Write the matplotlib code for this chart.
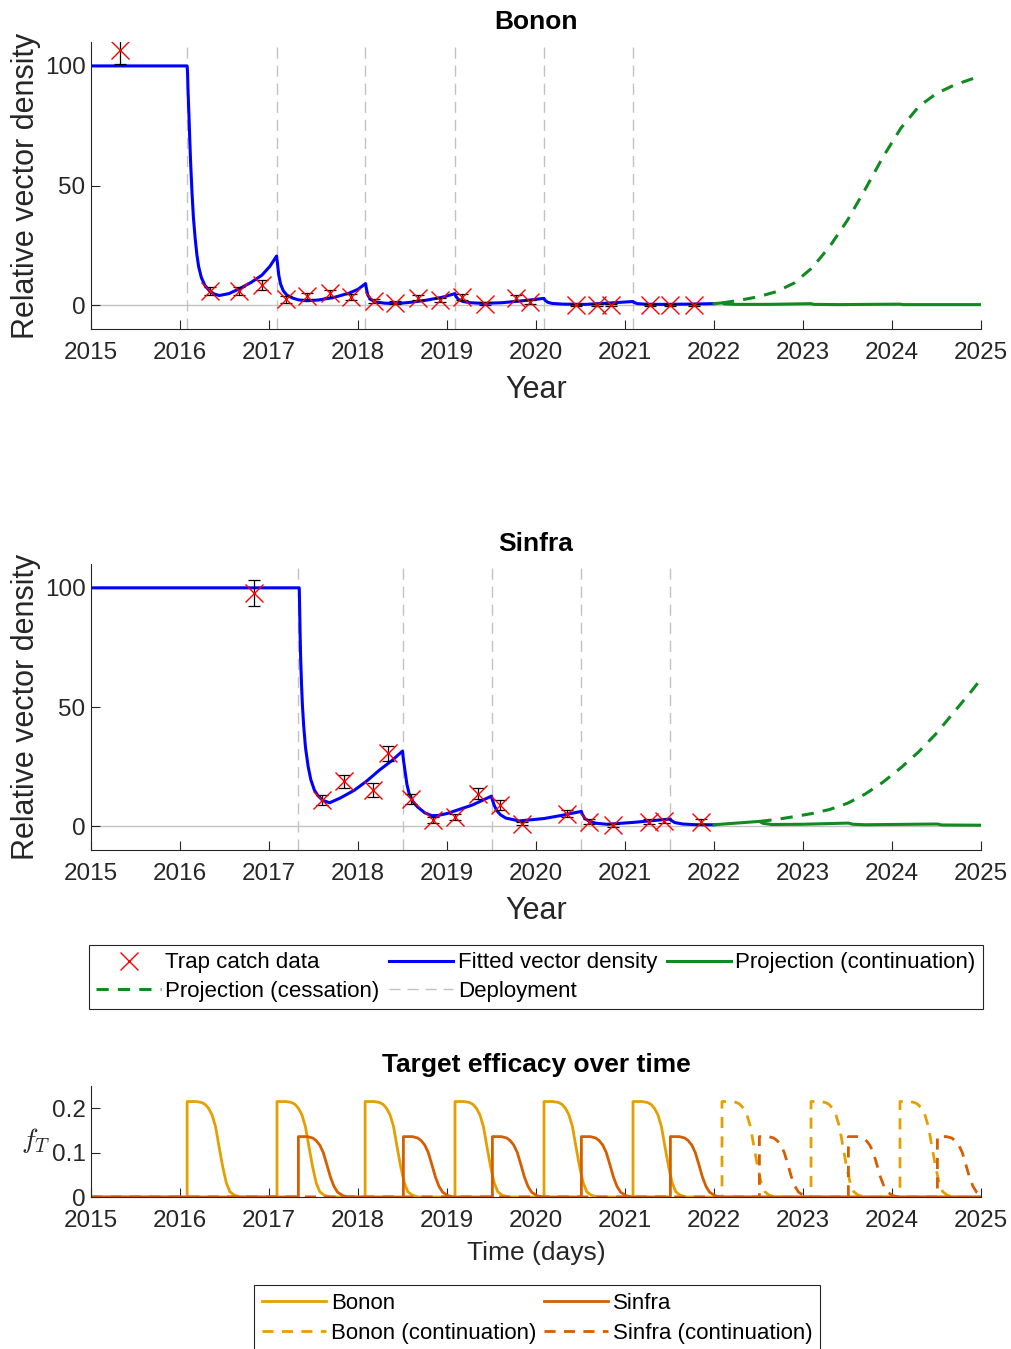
import matplotlib
matplotlib.use("Agg")
import matplotlib.pyplot as plt
from matplotlib.lines import Line2D

plt.rcParams['font.family'] = ['Liberation Sans', 'DejaVu Sans']
plt.rcParams['mathtext.fontset'] = 'cm'

# ---- Bonon trap catch data (year, relative density, error) ----
bonon_t = [2015.33, 2016.34, 2016.66, 2016.92, 2017.19, 2017.43, 2017.68, 2017.92,
           2018.18, 2018.42, 2018.67, 2018.92, 2019.17, 2019.43, 2019.78, 2019.93,
           2020.45, 2020.68, 2020.84, 2021.28, 2021.51, 2021.77]
bonon_y = [106.7, 5.9, 5.9, 8.4, 2.4, 3.8, 4.9, 3.5,
           1.7, 1.0, 3.1, 2.0, 3.4, 0.6, 3.1, 1.4,
           0.0, 0.0, 0.0, 0.0, 0.0, 0.0]
bonon_err = [6.0, 1.5, 1.5, 2.1, 1.4, 1.3, 1.6, 1.3,
             0.7, 0.6, 1.0, 0.8, 1.4, 0.5, 1.2, 0.8,
             0.3, 0.3, 0.3, 0.3, 0.3, 0.3]

# fitted vector density
bonon_fit_t = [2015.0, 2016.08, 2016.085, 2016.09, 2016.10, 2016.11, 2016.12, 2016.135, 2016.15,
               2016.17, 2016.19, 2016.21, 2016.24, 2016.28, 2016.33, 2016.38, 2016.44, 2016.55,
               2016.66, 2016.80, 2016.92, 2017.01, 2017.085, 2017.095, 2017.11, 2017.13, 2017.16,
               2017.20, 2017.26, 2017.33, 2017.42, 2017.55, 2017.72, 2017.90, 2018.00, 2018.085,
               2018.095, 2018.11, 2018.14, 2018.20, 2018.30, 2018.43, 2018.60, 2018.76, 2018.95,
               2019.09, 2019.10, 2019.13, 2019.18, 2019.26, 2019.40, 2019.62, 2019.85, 2020.09,
               2020.10, 2020.13, 2020.18, 2020.30, 2020.56, 2020.80, 2021.09, 2021.10, 2021.14,
               2021.22, 2021.40, 2021.70, 2022.00]
bonon_fit_y = [100, 100, 97, 90, 80, 69, 59, 47, 37,
               28, 21, 16, 11.5, 8.2, 6.0, 4.7, 4.0, 4.8,
               6.7, 9.5, 12.5, 16.2, 20.5, 17.5, 12.5, 8.8, 6.0,
               4.2, 3.0, 2.2, 1.8, 2.1, 3.1, 5.0, 6.6, 9.0,
               6.8, 4.2, 2.4, 1.3, 0.8, 0.6, 1.2, 2.0, 3.3,
               4.8, 3.6, 2.3, 1.5, 1.0, 0.7, 1.0, 1.8, 2.8,
               2.1, 1.2, 0.7, 0.4, 0.3, 0.8, 1.5, 1.1, 0.6,
               0.4, 0.3, 0.4, 0.6]
bonon_cont_t = [2022.00, 2022.09, 2022.12, 2022.25, 2022.60, 2023.09, 2023.12, 2023.40,
                2024.09, 2024.12, 2025.0]
bonon_cont_y = [0.6, 0.9, 0.5, 0.3, 0.3, 0.6, 0.3, 0.2, 0.4, 0.2, 0.2]
bonon_stop_t = [2022.09, 2022.3, 2022.5, 2022.7, 2022.9, 2023.1, 2023.3, 2023.5,
                2023.7, 2023.9, 2024.1, 2024.3, 2024.5, 2024.7, 2024.9, 2025.0]
bonon_stop_y = [0.9, 2.1, 3.5, 5.6, 9.2, 15.5, 24.5, 35.5,
                48.5, 62.0, 74.0, 83.0, 88.5, 92.0, 94.6, 95.6]
bonon_deploy = [2016.08, 2017.09, 2018.08, 2019.09, 2020.09, 2021.09]

# ---- Sinfra ----
sinfra_t = [2016.83, 2017.59, 2017.84, 2018.17, 2018.34, 2018.60, 2018.84, 2019.09,
            2019.35, 2019.59, 2019.84, 2020.35, 2020.60, 2020.86, 2021.27, 2021.44, 2021.85]
sinfra_y = [97.8, 10.9, 18.9, 15.1, 30.5, 11.6, 2.5, 3.9,
            13.7, 8.8, 1.1, 5.3, 1.8, 0.4, 1.8, 2.2, 1.8]
sinfra_err = [5.3, 2.1, 2.7, 3.0, 3.1, 2.1, 1.2, 1.4,
              2.3, 2.0, 0.8, 1.5, 1.0, 0.6, 1.0, 1.0, 1.0]

sinfra_fit_t = [2015.0, 2017.34, 2017.345, 2017.35, 2017.356, 2017.365, 2017.375, 2017.39, 2017.41,
                2017.44, 2017.47, 2017.51, 2017.55, 2017.60, 2017.68, 2017.80, 2017.96, 2018.10,
                2018.24, 2018.38, 2018.50, 2018.51, 2018.527, 2018.55, 2018.574, 2018.62, 2018.668,
                2018.75, 2018.83, 2018.90, 2019.00, 2019.28, 2019.50, 2019.51, 2019.53, 2019.56,
                2019.60, 2019.66, 2019.81, 2020.09, 2020.30, 2020.51, 2020.52, 2020.55, 2020.60,
                2020.68, 2020.80, 2021.10, 2021.51, 2021.52, 2021.56, 2021.65, 2021.80, 2022.00]
sinfra_fit_y = [100, 100, 90, 80, 70, 60, 51, 42, 33,
                25, 19.5, 15.1, 12.8, 10.9, 9.8, 11.8, 15.1, 19,
                23.5, 27.5, 31.5, 28, 23.5, 17.5, 13.7, 10.2, 8.1,
                5.6, 4.4, 4.5, 5.3, 8.8, 12.6, 11.0, 8.8, 6.5,
                4.8, 3.4, 2.2, 3.2, 4.6, 6.2, 5.0, 3.2, 2.0,
                1.2, 0.8, 1.6, 3.0, 2.4, 1.5, 0.9, 0.6, 0.6]
sinfra_cont_t = [2022.00, 2022.51, 2022.55, 2022.65, 2023.00, 2023.51, 2023.56, 2023.70,
                 2024.51, 2024.56, 2025.0]
sinfra_cont_y = [0.6, 2.0, 1.2, 0.7, 0.8, 1.3, 0.8, 0.6, 0.9, 0.5, 0.4]
sinfra_stop_t = [2022.51, 2022.7, 2022.9, 2023.1, 2023.3, 2023.5, 2023.7, 2023.9,
                 2024.1, 2024.3, 2024.5, 2024.7, 2024.9, 2025.0]
sinfra_stop_y = [2.0, 2.8, 4.0, 5.3, 7.0, 9.6, 13.5, 18.5,
                 24.5, 31.2, 39.0, 48.0, 57.0, 61.8]
sinfra_deploy = [2017.33, 2018.51, 2019.51, 2020.51, 2021.51]

# ---- target efficacy: pulse shape after each deployment (years after, f_T) ----
bonon_pulse_dt = [0.0, 0.10, 0.16, 0.20, 0.24, 0.28, 0.32, 0.36, 0.40, 0.44, 0.48, 0.53, 0.60]
bonon_pulse_f = [0.215, 0.215, 0.213, 0.209, 0.200, 0.185, 0.158, 0.112, 0.068, 0.032, 0.012, 0.004, 0.0]
sinfra_pulse_dt = [0.0, 0.10, 0.16, 0.20, 0.24, 0.28, 0.32, 0.36, 0.40, 0.44, 0.50, 0.56]
sinfra_pulse_f = [0.136, 0.136, 0.133, 0.127, 0.117, 0.100, 0.073, 0.045, 0.024, 0.011, 0.003, 0.0]
bonon_deploy_cont = [2022.09, 2023.09, 2024.09]
sinfra_deploy_cont = [2022.51, 2023.51, 2024.51]

years = list(range(2015, 2026))

BLUE = (0, 0, 1)
GREEN = '#118a22'
GREY = (0.76, 0.76, 0.76)
C_BONON = '#E69F00'
C_SINFRA = '#D55E00'
TXT = '#262626'


def efficacy(deploys, dt, f):
    t, v = [2015.0], [0.0]
    for d in deploys:
        t.append(d)
        v.append(0.0)
        t += [d + x for x in dt]
        v += f
    t.append(2025.0)
    v.append(0.0)
    return t, v


def style(ax):
    for s in ['top', 'right']:
        ax.spines[s].set_visible(False)
    for s in ['left', 'bottom']:
        ax.spines[s].set_color(TXT)
        ax.spines[s].set_linewidth(0.8)
    ax.tick_params(direction='in', length=6.4, width=0.8, colors=TXT,
                   labelsize=17.5, labelcolor=TXT)
    ax.tick_params(axis='x', pad=9.5)
    ax.tick_params(axis='y', pad=4)
    ax.set_xlim(2015, 2025)
    ax.set_xticks(years)


def density_panel(ax, title, t, y, err, fit_t, fit_y, cont_t, cont_y, stop_t, stop_y, deploy):
    style(ax)
    ax.axhline(0, color=GREY, lw=1, zorder=1)
    for d in deploy:
        ax.axvline(d, color=GREY, lw=1, ls=(0, (8, 5)), zorder=1)
    ax.plot(fit_t, fit_y, color=BLUE, lw=2.2, zorder=2)
    ax.plot(cont_t, cont_y, color=GREEN, lw=2.2, zorder=2)
    ax.plot(stop_t, stop_y, color=GREEN, lw=2.2, ls=(0, (4, 3)), zorder=2)
    ax.errorbar(t, y, yerr=err, fmt='none', ecolor='k', elinewidth=0.9, capsize=4.5,
                capthick=0.9, zorder=3)
    ax.plot(t, y, 'x', color='red', ms=13, mew=1.0, zorder=4)
    ax.set_ylim(-10, 110)
    ax.set_yticks([0, 50, 100])
    ax.set_title(title, fontsize=19, fontweight='bold', pad=9.5)
    ax.set_xlabel('Year', fontsize=22, color=TXT, labelpad=8)
    ax.set_ylabel('Relative vector density', fontsize=22, color=TXT, labelpad=3)


fig = plt.figure(figsize=(10.12, 13.49), dpi=100)
W, H = 1012.0, 1349.0

ax1 = fig.add_axes([91 / W, 1 - 329 / H, 890 / W, 287 / H])
density_panel(ax1, 'Bonon', bonon_t, bonon_y, bonon_err, bonon_fit_t, bonon_fit_y,
              bonon_cont_t, bonon_cont_y, bonon_stop_t, bonon_stop_y, bonon_deploy)

ax2 = fig.add_axes([91 / W, 1 - 850 / H, 890 / W, 286 / H])
density_panel(ax2, 'Sinfra', sinfra_t, sinfra_y, sinfra_err, sinfra_fit_t, sinfra_fit_y,
              sinfra_cont_t, sinfra_cont_y, sinfra_stop_t, sinfra_stop_y, sinfra_deploy)

# legend for the density panels
h1 = [Line2D([], [], color='red', marker='x', ls='none', ms=13, mew=1.0),
      Line2D([], [], color=GREEN, lw=2.2, ls=(0, (4, 3))),
      Line2D([], [], color=BLUE, lw=2.2),
      Line2D([], [], color=GREY, lw=1, ls=(0, (8, 5))),
      Line2D([], [], color=GREEN, lw=2.2)]
l1 = ['Trap catch data', 'Projection (cessation)', 'Fitted vector density', 'Deployment',
      'Projection (continuation)']
leg1 = fig.legend(h1, l1, loc='upper left', ncol=3, mode='expand',
                  bbox_to_anchor=(89 / W, 1 - 1009 / H, 894 / W, 64 / H), borderaxespad=0,
                  fontsize=16, handlelength=2.9, handletextpad=0.2, borderpad=0.33,
                  labelspacing=0.33, columnspacing=0.5, fancybox=False, framealpha=1)
leg1.get_frame().set_edgecolor(TXT)
leg1.get_frame().set_linewidth(0.8)

# target efficacy panel
ax3 = fig.add_axes([91 / W, 1 - 1197 / H, 890 / W, 111 / H])
style(ax3)
bt, bv = efficacy(bonon_deploy, bonon_pulse_dt, bonon_pulse_f)
st, sv = efficacy(sinfra_deploy, sinfra_pulse_dt, sinfra_pulse_f)
bct, bcv = efficacy(bonon_deploy_cont, bonon_pulse_dt, bonon_pulse_f)
sct, scv = efficacy(sinfra_deploy_cont, sinfra_pulse_dt, sinfra_pulse_f)
ax3.plot(bt, bv, color=C_BONON, lw=2, label='Bonon')
ax3.plot(bct, bcv, color=C_BONON, lw=2, ls=(0, (4, 3)), label='Bonon (continuation)')
ax3.plot(st, sv, color=C_SINFRA, lw=2, label='Sinfra')
ax3.plot(sct, scv, color=C_SINFRA, lw=2, ls=(0, (4, 3)), label='Sinfra (continuation)')
ax3.set_ylim(0, 0.25)
ax3.set_yticks([0, 0.1, 0.2])
ax3.set_yticklabels(['0', '0.1', '0.2'])
ax3.set_title('Target efficacy over time', fontsize=19, fontweight='bold', pad=10)
ax3.set_xlabel('Time (days)', fontsize=19, color=TXT, labelpad=6)
ax3.set_ylabel('$f_T$', fontsize=20, color=TXT, rotation=0)
ax3.yaxis.set_label_coords(-0.062, 0.38)

h3, l3 = ax3.get_legend_handles_labels()
leg2 = fig.legend(h3, l3, loc='upper left', ncol=2, mode='expand',
                  bbox_to_anchor=(254 / W, 1 - 1349 / H, 566 / W, 64 / H), borderaxespad=0,
                  fontsize=16, handlelength=2.9, handletextpad=0.2, borderpad=0.35,
                  labelspacing=0.4, columnspacing=0.5, fancybox=False, framealpha=1)
leg2.get_frame().set_edgecolor(TXT)
leg2.get_frame().set_linewidth(0.8)

fig.savefig('out.png', dpi=100)
